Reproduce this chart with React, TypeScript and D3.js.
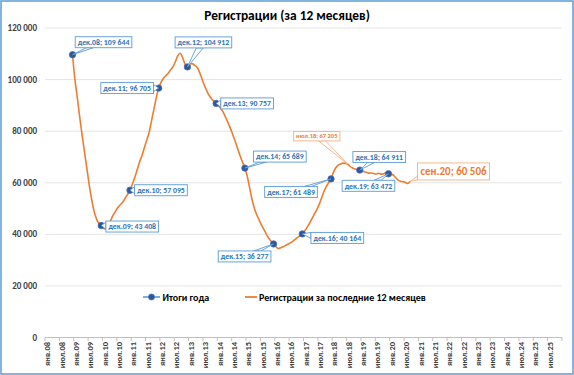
import React, { useEffect, useRef } from "react";
import * as d3 from "d3";

const W = 574;
const H = 375;

// Category axis: monthly, янв.08 .. дек.25
const MONTHS = ["янв", "фев", "мар", "апр", "май", "июн", "июл", "авг", "сен", "окт", "ноя", "дек"];
const START_YEAR = 2008;
const N_MONTHS = 216;

// Rolling 12-month registrations, monthly, starting at дек.08
const LINE_START = 11;
const reg2008 = [109644];
const reg2009 = [100000, 93000, 85500, 78500, 72000, 65500, 59000, 53500, 49000, 46000, 44300, 43408];
const reg2010 = [42300, 42000, 43500, 45500, 47500, 49000, 50500, 51500, 52500, 54000, 55500, 57095];
const reg2011 = [59500, 62000, 65000, 68000, 70500, 73500, 76500, 79500, 84000, 88500, 93000, 96705];
const reg2012 = [99000, 100500, 101500, 102500, 103800, 105000, 107000, 109300, 110200, 108500, 106000, 104912];
const reg2013 = [106000, 106200, 105500, 104800, 103000, 100500, 98000, 95800, 94000, 92700, 91600, 90757];
const reg2014 = [89800, 88700, 87300, 85300, 83200, 81000, 78500, 76000, 73200, 70500, 68000, 65689];
const reg2015 = [62500, 58000, 53500, 50000, 47500, 45500, 43500, 41800, 40000, 38500, 37300, 36277];
const reg2016 = [35200, 34500, 34800, 35200, 35700, 36200, 36700, 37300, 38000, 38800, 39500, 40164];
const reg2017 = [41300, 42700, 44300, 46000, 47800, 49500, 51500, 54000, 56500, 58500, 60000, 61489];
const reg2018 = [64000, 65800, 66800, 67300, 67600, 67500, 67205, 66300, 65700, 65300, 65100, 64911];
const reg2019 = [64600, 64300, 64000, 63700, 63800, 63500, 63400, 63700, 63300, 63500, 63900, 63472];
const reg2020 = [63300, 63000, 62000, 61000, 60600, 60400, 60200, 59700, 60506];
const rolling12 = [
  ...reg2008, ...reg2009, ...reg2010, ...reg2011, ...reg2012, ...reg2013, ...reg2014,
  ...reg2015, ...reg2016, ...reg2017, ...reg2018, ...reg2019, ...reg2020,
];

// Year totals (December)
const yearEndIdx = [11, 23, 35, 47, 59, 71, 83, 95, 107, 119, 131, 143];
const yearEndVals = [109644, 43408, 57095, 96705, 104912, 90757, 65689, 36277, 40164, 61489, 64911, 63472];

// Extra highlighted points of the orange series
const extraIdx = [126, 152];
const extraVals = [67205, 60506];

const yTicks = [0, 20000, 40000, 60000, 80000, 100000, 120000];

// Callout placement (box centre offset from the point, px)
const yearEndDx = [31, 31, 31, -31.5, 16, 31, 35, -29, 35, -40, 19.5, -20];
const yearEndDy = [-12.5, 1, 0, 0, -24.5, 0, -11.5, 12.5, 4, 13, -13, 12];
const extraDx = [-31, 43.5];
const extraDy = [-28, -10];

const FONT = "Carlito, Lato, 'Open Sans', sans-serif";
const BLUE_TXT = "#2E75B6";
const BLUE_BORDER = "#5B9BD5";
const ORANGE = "#ED7D31";
const ORANGE_BORDER = "#F4B183";

const fmt = d3.formatLocale({ decimal: ",", thousands: " ", grouping: [3], currency: ["", ""] }).format(",d");
const monthLabel = (i: number) => `${MONTHS[i % 12]}.${String((START_YEAR + Math.floor(i / 12)) % 100).padStart(2, "0")}`;

export default function App() {
  const ref = useRef<SVGSVGElement>(null);

  useEffect(() => {
    const svg = d3.select(ref.current);
    svg.selectAll("*").remove();

    const x = d3.scaleLinear().domain([0, N_MONTHS]).range([45, 562]);
    const xc = (i: number) => x(i + 0.5);
    const y = d3.scaleLinear().domain([0, 120000]).range([337.5, 28]);

    svg.append("rect").attr("x", 1).attr("y", 1).attr("width", W - 2).attr("height", H - 2)
      .attr("fill", "#fff").attr("stroke", BLUE_BORDER).attr("stroke-width", 1.5);

    // title
    svg.append("text").attr("x", W / 2).attr("y", 20).attr("text-anchor", "middle")
      .attr("font-family", FONT).attr("font-size", 13.4).attr("font-weight", 700).attr("fill", "#000")
      .text("Регистрации (за 12 месяцев)");

    // gridlines & y labels
    const g = svg.append("g");
    yTicks.forEach((t) => {
      g.append("line").attr("x1", 45).attr("x2", 562).attr("y1", y(t)).attr("y2", y(t))
        .attr("stroke", t === 0 ? "#BFBFBF" : "#E4E4E4").attr("stroke-width", 1);
      g.append("text").attr("x", 37).attr("y", y(t)).attr("dy", "0.35em").attr("text-anchor", "end")
        .attr("font-family", FONT).attr("font-size", 9).attr("font-weight", 700).attr("fill", "#404040")
        .text(fmt(t));
    });

    // x ticks (category boundaries every 6 months)
    d3.range(0, N_MONTHS + 1, 6).forEach((i) => {
      g.append("line").attr("x1", x(i)).attr("x2", x(i)).attr("y1", 337.5).attr("y2", 341)
        .attr("stroke", "#BFBFBF").attr("stroke-width", 1);
    });

    // x labels
    d3.range(0, N_MONTHS, 6).forEach((i) => {
      g.append("text")
        .attr("transform", `translate(${xc(i) + 1},342) rotate(-90)`)
        .attr("text-anchor", "end").attr("dy", "0.35em")
        .attr("font-family", FONT).attr("font-size", 8.5).attr("font-weight", 700).attr("fill", "#404040")
        .text(monthLabel(i));
    });

    // orange line
    const line = d3.line<number>()
      .x((_, k) => xc(LINE_START + k))
      .y((v) => y(v))
      .curve(d3.curveMonotoneX);
    svg.append("path").attr("d", line(rolling12) as string).attr("fill", "none")
      .attr("stroke", ORANGE).attr("stroke-width", 1.6).attr("stroke-linejoin", "round");

    // markers
    yearEndIdx.forEach((idx, k) => {
      svg.append("circle").attr("cx", xc(idx)).attr("cy", y(yearEndVals[k])).attr("r", 3.2)
        .attr("fill", "#2F5597").attr("stroke", "#4472C4").attr("stroke-width", 0.8);
    });

    // callouts
    const callout = (px: number, py: number, dx: number, dy: number, label: string,
                     size: number, color: string, border: string, padX: number, h: number) => {
      const cg = svg.append("g");
      const txt = cg.append("text").attr("font-family", FONT).attr("font-size", size).attr("font-weight", 700)
        .attr("fill", color).attr("text-anchor", "middle").attr("dy", "0.35em").text(label);
      const cx = px + dx, cy = py + dy;
      txt.attr("x", cx).attr("y", cy);
      const bw = (txt.node() as SVGTextElement).getComputedTextLength() + padX * 2;
      const bh = h;
      const ddx = px - cx, ddy = py - cy;
      const insideX = Math.abs(ddx) <= bw / 2, insideY = Math.abs(ddy) <= bh / 2;
      if (!(insideX && insideY)) {
        const tx = ddx === 0 ? Infinity : (bw / 2) / Math.abs(ddx);
        const ty = ddy === 0 ? Infinity : (bh / 2) / Math.abs(ddy);
        const t = Math.min(tx, ty);
        const ex = cx + ddx * t, ey = cy + ddy * t;
        let b1: [number, number], b2: [number, number];
        const half = 3.5;
        if (tx < ty) {
          const a = Math.max(cy - bh / 2, ey - half), b = Math.min(cy + bh / 2, ey + half);
          b1 = [ex, a]; b2 = [ex, b];
        } else {
          const a = Math.max(cx - bw / 2, ex - half), b = Math.min(cx + bw / 2, ex + half);
          b1 = [a, ey]; b2 = [b, ey];
        }
        cg.insert("path", "text").attr("d", `M${b1[0]},${b1[1]}L${px},${py}L${b2[0]},${b2[1]}Z`)
          .attr("fill", "#fff").attr("stroke", border).attr("stroke-width", 0.9);
      }
      cg.insert("rect", "text").attr("x", cx - bw / 2).attr("y", cy - bh / 2).attr("width", bw).attr("height", bh)
        .attr("fill", "#fff").attr("stroke", border).attr("stroke-width", 0.9);
    };

    yearEndIdx.forEach((idx, k) => {
      callout(xc(idx), y(yearEndVals[k]), yearEndDx[k], yearEndDy[k],
        `${monthLabel(idx)}; ${fmt(yearEndVals[k])}`, 7.8, BLUE_TXT, BLUE_BORDER, 2.5, 11);
    });
    extraIdx.forEach((idx, k) => {
      const big = k === 1;
      callout(xc(idx), y(extraVals[k]), extraDx[k], extraDy[k],
        `${monthLabel(idx)}; ${fmt(extraVals[k])}`, big ? 11 : 6.5, ORANGE, ORANGE_BORDER, big ? 3 : 2.5, big ? 17 : 9.5);
    });

    // legend
    const ly = 297;
    const lg = svg.append("g");
    lg.append("line").attr("x1", 143).attr("x2", 160).attr("y1", ly).attr("y2", ly)
      .attr("stroke", BLUE_BORDER).attr("stroke-width", 1.6);
    lg.append("circle").attr("cx", 151.5).attr("cy", ly).attr("r", 3)
      .attr("fill", "#2F5597").attr("stroke", "#4472C4").attr("stroke-width", 0.8);
    lg.append("text").attr("x", 162.5).attr("y", ly).attr("dy", "0.35em")
      .attr("font-family", FONT).attr("font-size", 10).attr("font-weight", 700).attr("fill", "#000")
      .text("Итоги года");
    lg.append("line").attr("x1", 245).attr("x2", 257).attr("y1", ly).attr("y2", ly)
      .attr("stroke", ORANGE).attr("stroke-width", 1.8);
    lg.append("text").attr("x", 259).attr("y", ly).attr("dy", "0.35em")
      .attr("font-family", FONT).attr("font-size", 10).attr("font-weight", 700).attr("fill", "#000")
      .text("Регистрации за последние 12 месяцев");
  }, []);

  return (
    <svg ref={ref} width={W} height={H} style={{ position: "absolute", left: 0, top: 0, display: "block" }} />
  );
}
